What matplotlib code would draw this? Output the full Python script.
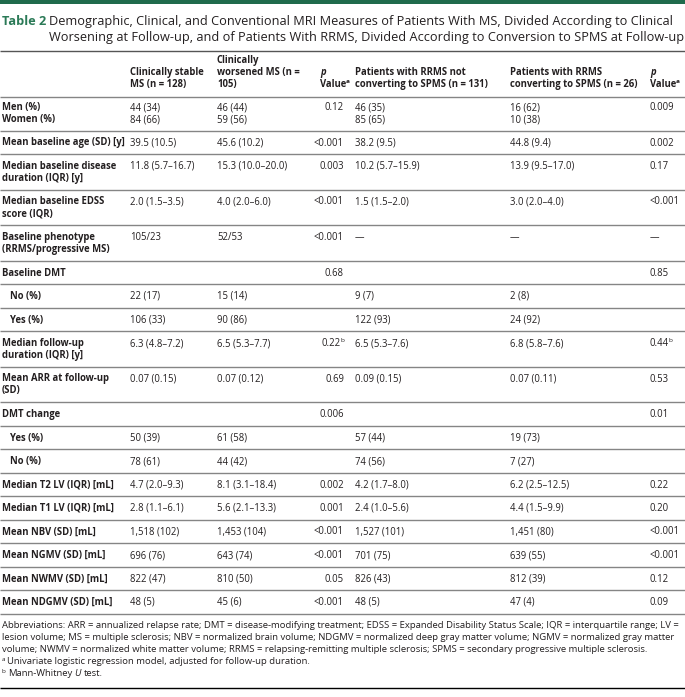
import matplotlib
matplotlib.use('Agg')
import matplotlib.pyplot as plt
from matplotlib import font_manager

# ---- table content ----
title_tag = "Table 2"
title_lines = ["Demographic, Clinical, and Conventional MRI Measures of Patients With MS, Divided According to Clinical",
               "Worsening at Follow-up, and of Patients With RRMS, Divided According to Conversion to SPMS at Follow-up"]

# header cells, lines top to bottom ("p" and "Value" get special styling below)
headers = [
    [""],
    ["Clinically stable", "MS (n = 128)"],
    ["Clinically", "worsened MS (n =", "105)"],
    ["p", "Value"],
    ["Patients with RRMS not", "converting to SPMS (n = 131)"],
    ["Patients with RRMS", "converting to SPMS (n = 26)"],
    ["p", "Value"],
]

labels = ["Men (%)\nWomen (%)", "Mean baseline age (SD) [y]", "Median baseline disease\nduration (IQR) [y]",
          "Median baseline EDSS\nscore (IQR)", "Baseline phenotype\n(RRMS/progressive MS)", "Baseline DMT",
          "No (%)", "Yes (%)", "Median follow-up\nduration (IQR) [y]", "Mean ARR at follow-up\n(SD)",
          "DMT change", "Yes (%)", "No (%)", "Median T2 LV (IQR) [mL]", "Median T1 LV (IQR) [mL]",
          "Mean NBV (SD) [mL]", "Mean NGMV (SD) [mL]", "Mean NWMV (SD) [mL]", "Mean NDGMV (SD) [mL]"]
sub_rows = [6, 7, 11, 12]

stable = ["44 (34)\n84 (66)", "39.5 (10.5)", "11.8 (5.7–16.7)", "2.0 (1.5–3.5)", "105/23", "",
          "22 (17)", "106 (33)", "6.3 (4.8–7.2)", "0.07 (0.15)", "", "50 (39)", "78 (61)",
          "4.7 (2.0–9.3)", "2.8 (1.1–6.1)", "1,518 (102)", "696 (76)", "822 (47)", "48 (5)"]
worsened = ["46 (44)\n59 (56)", "45.6 (10.2)", "15.3 (10.0–20.0)", "4.0 (2.0–6.0)", "52/53", "",
            "15 (14)", "90 (86)", "6.5 (5.3–7.7)", "0.07 (0.12)", "", "61 (58)", "44 (42)",
            "8.1 (3.1–18.4)", "5.6 (2.1–13.3)", "1,453 (104)", "643 (74)", "810 (50)", "45 (6)"]
p_ms = ["0.12", "<0.001", "0.003", "<0.001", "<0.001", "0.68", "", "", "0.22^b", "0.69",
        "0.006", "", "", "0.002", "0.001", "<0.001", "<0.001", "0.05", "<0.001"]
rr_stay = ["46 (35)\n85 (65)", "38.2 (9.5)", "10.2 (5.7–15.9)", "1.5 (1.5–2.0)", "—", "",
           "9 (7)", "122 (93)", "6.5 (5.3–7.6)", "0.09 (0.15)", "", "57 (44)", "74 (56)",
           "4.2 (1.7–8.0)", "2.4 (1.0–5.6)", "1,527 (101)", "701 (75)", "826 (43)", "48 (5)"]
rr_conv = ["16 (62)\n10 (38)", "44.8 (9.4)", "13.9 (9.5–17.0)", "3.0 (2.0–4.0)", "—", "",
           "2 (8)", "24 (92)", "6.8 (5.8–7.6)", "0.07 (0.11)", "", "19 (73)", "7 (27)",
           "6.2 (2.5–12.5)", "4.4 (1.5–9.9)", "1,451 (80)", "639 (55)", "812 (39)", "47 (4)"]
p_rr = ["0.009", "0.002", "0.17", "<0.001", "—", "0.85", "", "", "0.44^b", "0.53",
        "0.01", "", "", "0.22", "0.20", "<0.001", "<0.001", "0.12", "0.09"]

abbrev_lines = [
    "Abbreviations: ARR = annualized relapse rate; DMT = disease-modifying treatment; EDSS = Expanded Disability Status Scale; IQR = interquartile range; LV =",
    "lesion volume; MS = multiple sclerosis; NBV = normalized brain volume; NDGMV = normalized deep gray matter volume; NGMV = normalized gray matter",
    "volume; NWMV = normalized white matter volume; RRMS = relapsing-remitting multiple sclerosis; SPMS = secondary progressive multiple sclerosis.",
]
note_a = "Univariate logistic regression model, adjusted for follow-up duration."
note_b = ["Mann-Whitney ", "U", " test."]

# ---- style ----
green_bar = '#1f6b4c'
green_txt = '#2b7a57'
ink = '#231f20'
rule_c = '#858585'

names = {f.name for f in font_manager.fontManager.ttflist}
body_font = 'Open Sans' if 'Open Sans' in names else 'DejaVu Sans'
title_font = 'Liberation Sans Narrow' if 'Liberation Sans Narrow' in names else body_font
plt.rcParams['font.family'] = [body_font, 'DejaVu Sans']

W, H = 685, 697
fig = plt.figure(figsize=(W / 100, H / 100), dpi=100)
ax = fig.add_axes([0, 0, 1, 1])
ax.set_xlim(0, W)
ax.set_ylim(H, 0)
ax.axis('off')
renderer = fig.canvas.get_renderer()


def width(txt, size, **kw):
    t = ax.text(0, 0, txt, fontsize=size, **kw)
    w = t.get_window_extent(renderer).width
    t.remove()
    return w


def fit(txt, target, size, **kw):
    return size * target / width(txt, size, **kw)


def put(x, y, txt, size, ha='left', **kw):
    # text with an optional "^x" superscript marker at the end
    sup = ''
    if '^' in txt:
        txt, sup = txt.split('^')
    ssize = size * 0.68
    sw = width(sup, ssize, **kw) - 0.5 if sup else 0
    mw = width(txt, size, **kw)
    left = x if ha == 'left' else x - mw - sw
    ax.text(left, y, txt, fontsize=size, color=ink, ha='left', va='baseline', **kw)
    if sup:
        ax.text(left + mw - 0.5, y - 3.6, sup, fontsize=ssize, color=ink, ha='left', va='baseline', **kw)


body_size = fit("Mean baseline age (SD) [y]", 124, 6, fontweight='bold')
foot_size = fit(abbrev_lines[0], 680, 6)
title_size = fit(title_lines[1], 634, 9, family=title_font)

# title
ax.axhspan(0, 4, color=green_bar, lw=0)
ax.text(2, 25, title_tag, fontsize=title_size, family=title_font, fontweight='bold', color=green_txt)
for i, line in enumerate(title_lines):
    ax.text(49, 25 + i * 16, line, fontsize=title_size, family=title_font, color=ink)
ax.hlines(51, 0, W, color='#555555', lw=1.0)

# columns
col_x = [2, 130, 217, 344, 355, 510, 650]
col_ha = ['left', 'left', 'left', 'right', 'left', 'left', 'left']
head_x = [2, 130, 217, 320, 355, 510, 650]
line_h = 12.0

head_bottom = 87
for x, lines in zip(head_x, headers):
    n = len(lines)
    for i, line in enumerate(lines):
        yy = head_bottom - (n - 1 - i) * line_h
        if line == 'p':
            put(x, yy, 'p', body_size, fontweight='bold', fontstyle='italic')
        elif line == 'Value':
            put(x, yy, 'Value^a', body_size, fontweight='bold')
        elif line:
            put(x, yy, line, body_size, fontweight='bold')
ax.hlines(97, 0, W, color=rule_c, lw=1.0)

columns = [labels, stable, worsened, p_ms, rr_stay, rr_conv, p_rr]
y = 97.0
for r in range(len(labels)):
    n = labels[r].count('\n') + 1
    top_pad = 13 if r == 0 else 15
    base = y + top_pad
    for c, col in enumerate(columns):
        x = col_x[c]
        if c == 0 and r in sub_rows:
            x = 10
        for i, part in enumerate(col[r].split('\n')):
            if part:
                put(x, base + i * line_h, part, body_size, ha=col_ha[c],
                    fontweight='bold' if c == 0 else 'normal')
    y += (21.5 if r == 0 else 23.5) + (n - 1) * line_h
    ax.hlines(y, 0, W, color=rule_c, lw=1.0)

# footnotes
fy = y + 15
for i, line in enumerate(abbrev_lines):
    ax.text(2, fy + i * 12, line, fontsize=foot_size, color=ink, ha='left', va='baseline')
fs = foot_size * 0.68
ax.text(2, fy + 36 - 3.4, 'a', fontsize=fs, color=ink, va='baseline')
ax.text(2 + width('a', fs) + 2, fy + 36, note_a, fontsize=foot_size, color=ink, va='baseline')
ax.text(2, fy + 48 - 3.4, 'b', fontsize=fs, color=ink, va='baseline')
bx = 2 + width('b', fs) + 2
space = width('a b', foot_size) - width('ab', foot_size)
styles = ['normal', 'italic', 'normal']
for seg, st in zip(note_b, styles):
    core = seg.strip()
    if seg.startswith(' '):
        bx += space
    ax.text(bx, fy + 48, core, fontsize=foot_size, color=ink, va='baseline', fontstyle=st)
    bx += width(core, foot_size, fontstyle=st)
    if seg.endswith(' '):
        bx += space
ax.hlines(fy + 48 + 11, 0, W, color='black', lw=1.0)

fig.savefig('out.png', dpi=100)
